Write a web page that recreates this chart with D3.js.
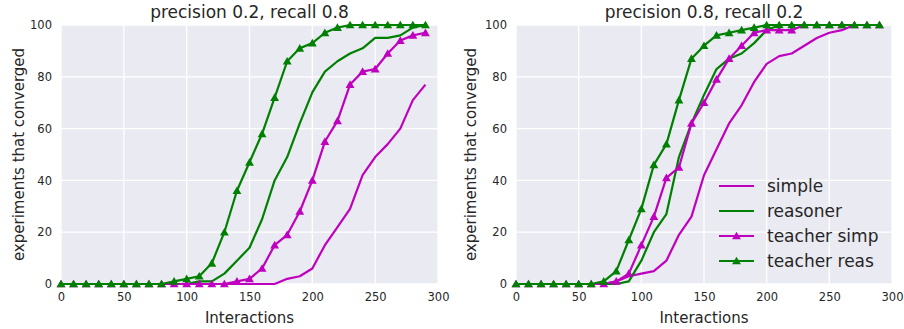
<!DOCTYPE html>
<html>
<head>
<meta charset="utf-8">
<script src="https://cdn.jsdelivr.net/npm/d3@7"></script>
<style>
  html, body { margin: 0; padding: 0; background: #ffffff; }
  svg { display: block; font-family: "DejaVu Sans", sans-serif; }
</style>
</head>
<body>
<svg id="chart" width="904" height="329"></svg>
<script>
// Interaction counts sampled every 10 steps
const interactions = [0, 10, 20, 30, 40, 50, 60, 70, 80, 90, 100, 110, 120, 130, 140,
  150, 160, 170, 180, 190, 200, 210, 220, 230, 240, 250, 260, 270, 280, 290];

const seriesNames = ["simple", "reasoner", "teacher simp", "teacher reas"];
const panelTitles = ["precision 0.2, recall 0.8", "precision 0.8, recall 0.2"];

const xTicks = [0, 50, 100, 150, 200, 250, 300];
const yTicks = [0, 20, 40, 60, 80, 100];

// precision 0.2, recall 0.8
const simpleA       = [0,0,0,0,0,0,0,0,0,0,0,0,0,0,0,0,0,0,2,3,6,15,22,29,42,49,54,60,71,77];
const reasonerA     = [0,0,0,0,0,0,0,0,0,0,0,1,1,4,9,14,25,40,49,62,74,82,86,89,91,95,95,96,99,100];
const teacherSimpA  = [0,0,0,0,0,0,0,0,0,0,0,0,0,0,1,2,6,15,19,28,40,55,63,77,82,83,89,94,96,97];
const teacherReasA  = [0,0,0,0,0,0,0,0,0,1,2,3,8,20,36,47,58,72,86,91,93,97,99,100,100,100,100,100,100,100];

// precision 0.8, recall 0.2
const simpleB       = [0,0,0,0,0,0,0,0,1,3,4,5,9,19,26,42,52,62,69,78,85,88,89,92,95,97,98,100,100,100];
const reasonerB     = [0,0,0,0,0,0,0,0,0,1,9,20,27,49,62,73,83,87,89,93,98,100,100,100,100,100,100,100,100,100];
const teacherSimpB  = [0,0,0,0,0,0,0,0,1,4,15,26,41,45,62,70,79,87,92,97,98,98,98,100,100,100,100,100,100,100];
const teacherReasB  = [0,0,0,0,0,0,0,1,5,17,29,46,54,71,87,92,96,97,98,99,100,100,100,100,100,100,100,100,100,100];

const magenta = "#bf00bf";
const green = "#008000";
const seriesColors = [magenta, green, magenta, green];
const seriesMarkers = [false, false, true, true];

const panels = [
  { title: panelTitles[0], left: 61, right: 438, ylabelX: 24,
    values: [simpleA, reasonerA, teacherSimpA, teacherReasA], legend: false },
  { title: panelTitles[1], left: 516, right: 892, ylabelX: 476,
    values: [simpleB, reasonerB, teacherSimpB, teacherReasB], legend: true }
];

const plotTop = 25, plotBottom = 284;
const svg = d3.select("#chart");
const textColor = "#262626";
const triangle = d3.symbol().type(d3.symbolTriangle).size(34);

panels.forEach(p => {
  const x = d3.scaleLinear().domain([0, 300]).range([p.left, p.right]);
  const y = d3.scaleLinear().domain([0, 100]).range([plotBottom, plotTop]);
  const g = svg.append("g");

  // plot background
  g.append("rect")
    .attr("x", p.left).attr("y", plotTop)
    .attr("width", p.right - p.left).attr("height", plotBottom - plotTop)
    .attr("fill", "#eaeaf2");

  // gridlines
  g.append("g").selectAll("line").data(xTicks).join("line")
    .attr("x1", d => x(d)).attr("x2", d => x(d))
    .attr("y1", plotTop).attr("y2", plotBottom)
    .attr("stroke", "#ffffff").attr("stroke-width", 1.3);
  g.append("g").selectAll("line").data(yTicks).join("line")
    .attr("x1", p.left).attr("x2", p.right)
    .attr("y1", d => y(d)).attr("y2", d => y(d))
    .attr("stroke", "#ffffff").attr("stroke-width", 1.3);

  // axes (labels only, no spines or tick marks)
  const xAxis = g.append("g")
    .attr("transform", `translate(0,${plotBottom})`)
    .call(d3.axisBottom(x).tickValues(xTicks).tickSize(0).tickPadding(9));
  const yAxis = g.append("g")
    .attr("transform", `translate(${p.left},0)`)
    .call(d3.axisLeft(y).tickValues(yTicks).tickSize(0).tickPadding(9));
  [xAxis, yAxis].forEach(a => {
    a.select(".domain").remove();
    a.selectAll("text")
      .attr("fill", textColor)
      .style("font-family", "DejaVu Sans, sans-serif")
      .style("font-size", "11.5px");
  });

  // series
  const line = d3.line().x((d, i) => x(interactions[i])).y(d => y(d));
  p.values.forEach((vals, k) => {
    g.append("path")
      .datum(vals)
      .attr("d", line)
      .attr("fill", "none")
      .attr("stroke", seriesColors[k])
      .attr("stroke-width", 2.2)
      .attr("stroke-linejoin", "round");
    if (seriesMarkers[k]) {
      g.append("g").selectAll("path").data(vals).join("path")
        .attr("d", triangle)
        .attr("transform", (d, i) => `translate(${x(interactions[i])},${y(d) + 0.8})`)
        .attr("fill", seriesColors[k]);
    }
  });

  // title and axis labels
  const cx = (p.left + p.right) / 2;
  g.append("text")
    .attr("x", cx).attr("y", 18)
    .attr("text-anchor", "middle")
    .attr("fill", textColor)
    .style("font-size", "17px")
    .text(p.title);
  g.append("text")
    .attr("x", cx).attr("y", 323)
    .attr("text-anchor", "middle")
    .attr("fill", textColor)
    .style("font-size", "15px")
    .text("Interactions");
  g.append("text")
    .attr("transform", `translate(${p.ylabelX},${(plotTop + plotBottom) / 2}) rotate(-90)`)
    .attr("text-anchor", "middle")
    .attr("fill", textColor)
    .style("font-size", "15px")
    .text("experiments that converged");

  // legend
  if (p.legend) {
    const lg = g.append("g");
    const lx0 = 719, lx1 = 754, ly0 = 186, dy = 25;
    seriesNames.forEach((name, k) => {
      const ly = ly0 + k * dy;
      lg.append("line")
        .attr("x1", lx0).attr("x2", lx1).attr("y1", ly).attr("y2", ly)
        .attr("stroke", seriesColors[k]).attr("stroke-width", 2.2);
      if (seriesMarkers[k]) {
        lg.append("path")
          .attr("d", triangle)
          .attr("transform", `translate(${(lx0 + lx1) / 2},${ly + 0.8})`)
          .attr("fill", seriesColors[k]);
      }
      lg.append("text")
        .attr("x", 767).attr("y", ly)
        .attr("dy", "0.35em")
        .attr("fill", textColor)
        .style("font-size", "17px")
        .text(name);
    });
  }
});
</script>
</body>
</html>
